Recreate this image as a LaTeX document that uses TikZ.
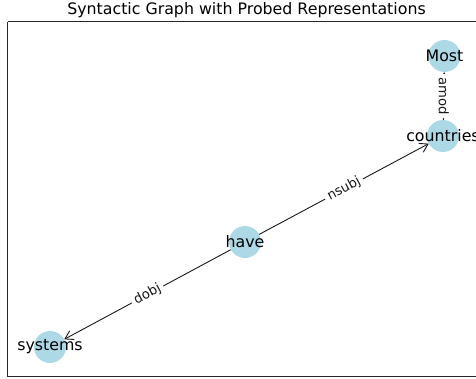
\documentclass[tikz,border=0pt]{standalone}
\usepackage{fontspec}
\setmainfont{DejaVu Sans}
\usetikzlibrary{arrows.meta}
\definecolor{nodeblue}{RGB}{173,216,230}
\tikzset{
  vert/.style={circle, fill=nodeblue, draw=none, minimum size=32pt, inner sep=0pt},
  word/.style={font=\fontsize{15.8}{19}\selectfont, text=black, inner sep=0pt},
  edge/.style={draw=black!90, line width=0.9pt, -{Straight Barb[length=8pt,width=10pt,line width=0.9pt]}},
  elabel/.style={font=\fontsize{13.2}{16}\selectfont, fill=white, inner sep=3.5pt, rounded corners=3pt, text=black!90},
  frame/.style={draw=black!85, line width=1pt}
}
\begin{document}
\begin{tikzpicture}[x=1pt, y=-1pt]
  \useasboundingbox (0,0) rectangle (476,379);
  \clip (0,0) rectangle (476,379);
  % axes frame (right side runs off the page)
  \draw[frame] (7.5,22) -- (490,22);
  \draw[frame] (7.5,22) -- (7.5,376) -- (490,376);
  % title
  \node[word, anchor=base] (title) at (246.5,15) {Syntactic Graph with Probed Representations};
  % vertices
  \node[vert] (most) at (444.5,56) {};
  \node[vert] (countries) at (443,136) {};
  \node[vert] (have) at (245,242) {};
  \node[vert] (systems) at (50,347) {};
  % dependency arcs
  \draw[edge] (have) -- (countries) node[midway, sloped, elabel] {nsubj};
  \draw[edge] (have) -- (systems) node[midway, sloped, elabel] {dobj};
  \draw[edge] (countries) -- (most) node[midway, rotate=-90, elabel] {amod};
  % vertex words
  \node[word] at (most) {Most};
  \node[word] at (countries) {countries};
  \node[word] at (have) {have};
  \node[word] at (systems) {systems};
\end{tikzpicture}
\end{document}
